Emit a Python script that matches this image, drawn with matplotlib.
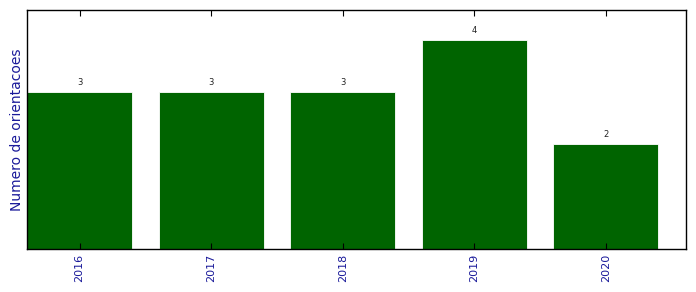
import matplotlib
matplotlib.use('Agg')
import matplotlib.pyplot as plt
import numpy as np

# Data
years = ['2016', '2017', '2018', '2019', '2020']
counts = [3, 3, 3, 4, 2]

x = np.arange(len(years))

fig = plt.figure(figsize=(6.96, 2.92), dpi=100)
ax = fig.add_axes([0.0388, 0.1473, 0.9468, 0.8185])

bars = ax.bar(x, counts, width=0.8, color='#006400', edgecolor='white', linewidth=0.6)

# value labels above bars
for xi, c in zip(x, counts):
    ax.text(xi, c + 0.1, str(c), ha='center', va='bottom', fontsize=6, color='#222222')

ax.set_xlim(-0.4, 4.61)
ax.set_ylim(0, 4.57)
ax.set_xticks(x)
ax.set_xticklabels(years, rotation=90, color='#1a1a9a', fontsize=8)
ax.set_yticks([])
ax.tick_params(axis='x', direction='in', top=True, length=4, width=0.8)
ax.set_ylabel('Numero de orientacoes', color='#1a1a9a', fontsize=10, labelpad=2)

for s in ax.spines.values():
    s.set_linewidth(1.0)

fig.savefig('out.png', dpi=100)
